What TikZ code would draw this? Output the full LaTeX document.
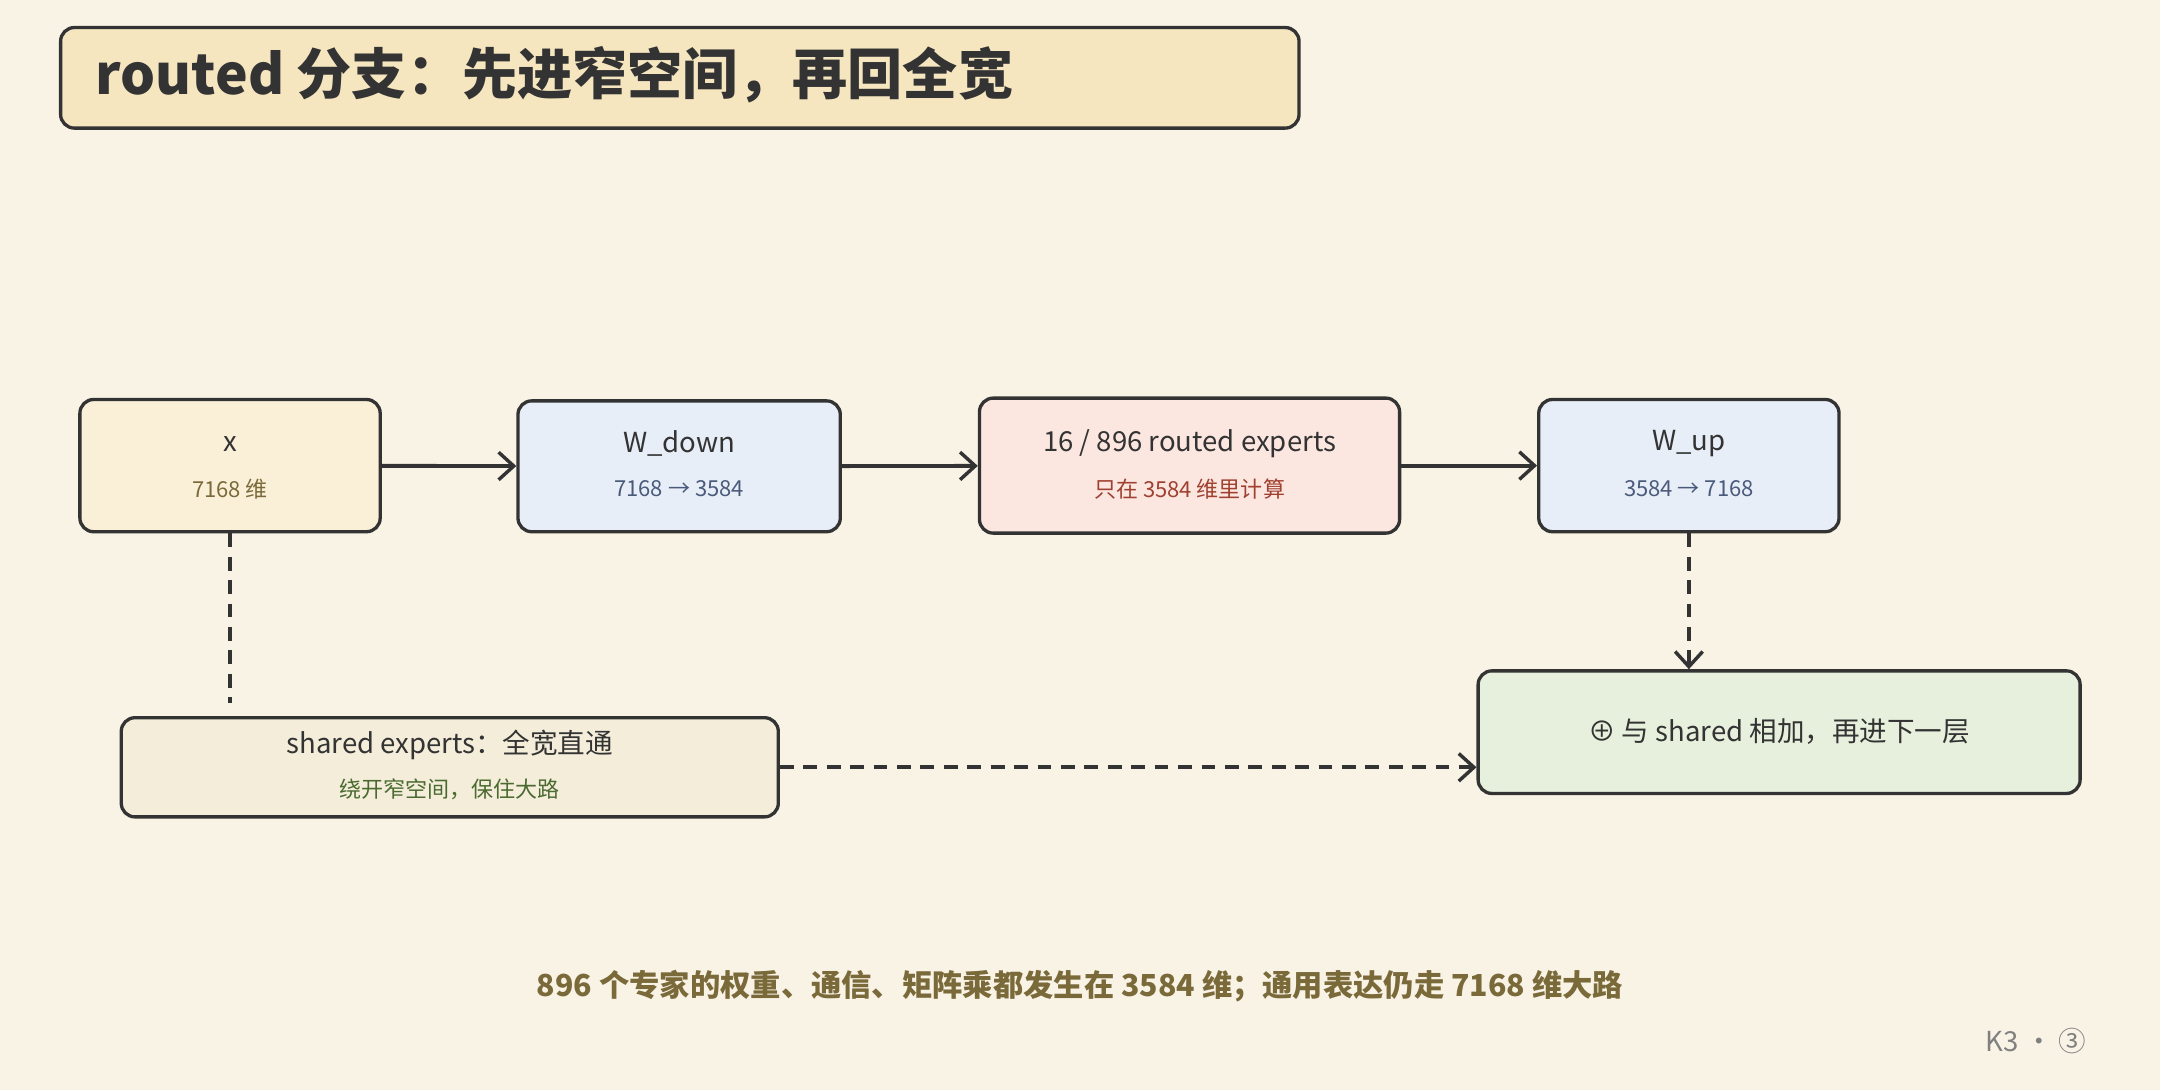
\documentclass[tikz,border=0pt]{standalone}
\usepackage{fontspec}
\setmainfont{Noto Sans CJK SC}
\usetikzlibrary{arrows.meta}
\definecolor{bg}{HTML}{F9F3E6}
\definecolor{ink}{HTML}{333333}
\definecolor{brown}{HTML}{7A6A3A}
\definecolor{blueink}{HTML}{4A5A7A}
\definecolor{redink}{HTML}{A04030}
\definecolor{greenink}{HTML}{4A6A30}
\definecolor{titlefill}{HTML}{F5E6C0}
\definecolor{xfill}{HTML}{FAF0D8}
\definecolor{bluefill}{HTML}{E8EEF8}
\definecolor{redfill}{HTML}{FBE6E0}
\definecolor{shfill}{HTML}{F3EDDA}
\definecolor{greenfill}{HTML}{E6F0DC}
\tikzset{
 box/.style={draw=ink,line width=2.4pt,rounded corners=10pt,inner sep=0pt},
 main/.style={font=\fontsize{20}{24}\selectfont,text=ink},
 sub/.style={font=\fontsize{16}{19}\selectfont},
 tip/.style={-{Straight Barb[length=11pt,width=20pt,line width=2.5pt]}},
 arr/.style={draw=ink,line width=2.8pt,tip},
 dashline/.style={draw=ink,line width=2.8pt,dash pattern=on 10pt off 7pt},
}
\begin{document}
\begin{tikzpicture}[x=1pt,y=-1pt]
\fill[bg] (0,0) rectangle (1568,791);
\useasboundingbox (0,0) rectangle (1568,791);
\node[box,fill=titlefill,minimum width=899pt,minimum height=73pt] (title) at (493.5,56.5) {};
\node[anchor=west,font=\fontsize{40}{46}\selectfont\bfseries,text=ink] (tt) at (66,54) {routed 分支：先进窄空间，再回全宽};
\node[box,fill=xfill,minimum width=218pt,minimum height=96pt] (x) at (167,338) {};
\node[main] (xt) at (167,322) {x};
\node[sub,text=brown] (xs) at (167,355) {7168 维};
\node[box,fill=bluefill,minimum width=234pt,minimum height=95pt] (wd) at (493,338.5) {};
\node[main] (wdt) at (493,322) {W\_down};
\node[sub,text=blueink] (wds) at (493,355) {7168 → 3584};
\node[box,fill=redfill,minimum width=305pt,minimum height=98pt] (re) at (863.5,338) {};
\node[main] (ret) at (863.5,322) {16 / 896 routed experts};
\node[sub,text=redink] (res) at (863.5,355) {只在 3584 维里计算};
\node[box,fill=bluefill,minimum width=218pt,minimum height=96pt] (wu) at (1226,338) {};
\node[main] (wut) at (1226,322) {W\_up};
\node[sub,text=blueink] (wus) at (1226,355) {3584 → 7168};
\node[box,fill=shfill,minimum width=477pt,minimum height=72pt] (sh) at (326.5,557) {};
\node[main] (sht) at (326.5,541) {shared experts：全宽直通};
\node[sub,text=greenink] (shs) at (326.5,573) {绕开窄空间，保住大路};
\node[box,fill=greenfill,minimum width=437pt,minimum height=89pt] (sum) at (1291.5,531.5) {};
\node[main] (sumt) at (1291.5,531) {⊕ 与 shared 相加，再进下一层};
\coordinate (xe) at (167,510);
\draw[arr] (x) -- (wd);
\draw[arr] (wd) -- (re);
\draw[arr] (re) -- (wu);
\draw[dashline] (x.south) -- (xe);
\draw[dashline,tip] (wu.south) -- (sum.north -| wu.south);
\draw[dashline,tip] (sh.east) -- (sh.east -| sum.west);
\node[font=\fontsize{22}{26}\selectfont\bfseries,text=brown] (foot) at (784,716) {896 个专家的权重、通信、矩阵乘都发生在 3584 维；通用表达仍走 7168 维大路};
\node[font=\fontsize{20}{24}\selectfont,text=gray] (k3) at (1478,756) {K3 · ③};
\end{tikzpicture}
\end{document}
